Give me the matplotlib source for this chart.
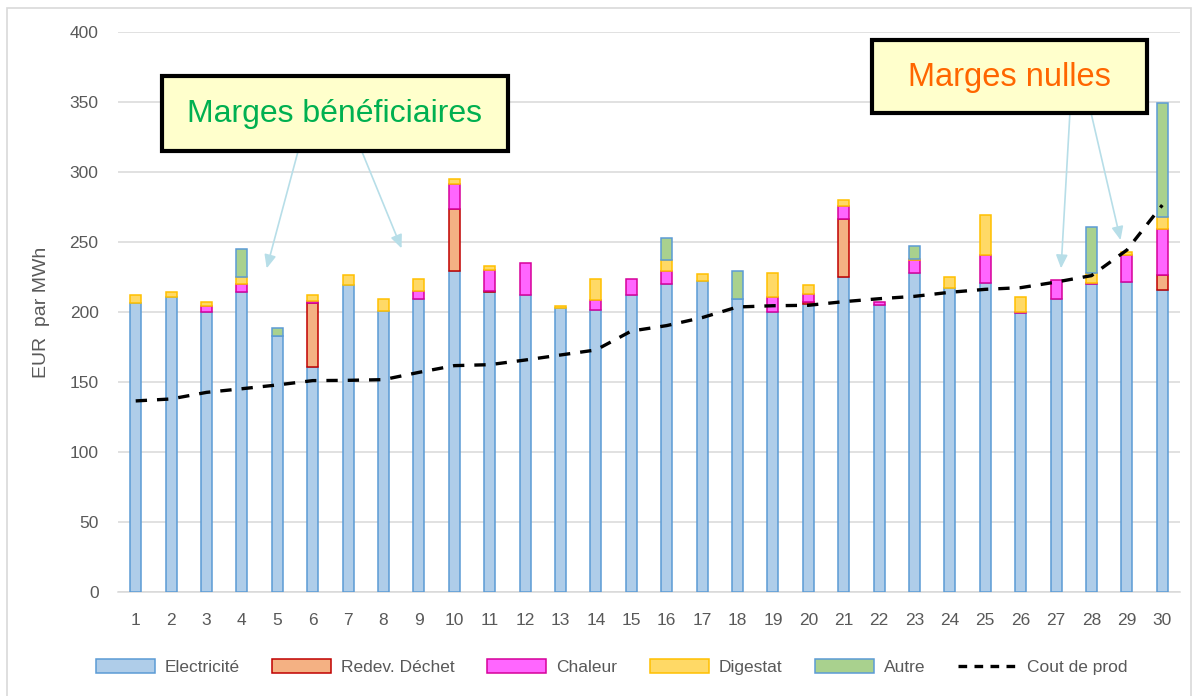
import numpy as np
import matplotlib
matplotlib.use("Agg")
import matplotlib.pyplot as plt
from matplotlib.patches import Rectangle, Patch
from matplotlib.lines import Line2D

# values (EUR par MWh)
sites = list(range(1, 31))
electricite = [206.4, 211.2, 200.4, 214.7, 182.9, 160.7, 219.7, 201.1, 209.7, 229.5,
               214.3, 212.6, 203.3, 201.9, 212.1, 220.0, 222.1, 209.3, 200.0, 205.7,
               225.2, 205.0, 228.4, 217.1, 220.7, 199.3, 209.3, 220.0, 221.4, 215.7]
redev_dechet = [0, 0, 0, 0, 0, 45.7, 0, 0, 0, 44.5,
                0.8, 0, 0, 0, 0, 0, 0, 0, 0, 1.9,
                41.7, 0, 0, 0, 0, 0, 0, 0, 0, 10.7]
chaleur = [0, 0, 4.3, 5.7, 0, 1.9, 0, 0, 5.5, 17.9,
           15.1, 22.4, 0, 6.9, 11.7, 9.7, 0, 0, 11.2, 5.7,
           9.2, 2.6, 8.6, 0, 20.4, 0.7, 13.6, 1.1, 19.7, 33.1]
digestat = [5.7, 3.1, 2.4, 4.8, 0, 3.8, 6.7, 8.2, 8.6, 3.3,
            3.2, 0, 1.2, 15.0, 0, 7.4, 5.0, 0, 16.7, 6.0,
            3.9, 0, 1.4, 8.3, 28.2, 10.7, 0, 6.8, 2.0, 8.8]
autre = [0, 0, 0, 19.8, 5.7, 0, 0, 0, 0, 0,
         0, 0, 0, 0, 0, 15.8, 0, 20.0, 0, 0,
         0, 0, 8.8, 0, 0, 0, 0, 32.8, 0, 81.0]
cout_prod = [136.7, 138.1, 142.8, 145.4, 148.1, 151.2, 151.4, 151.9, 157.1, 161.9,
             162.6, 165.9, 169.5, 173.1, 186.6, 190.5, 196.2, 203.8, 204.7, 205.0,
             207.6, 209.7, 211.4, 214.3, 216.4, 217.6, 221.6, 226.2, 244.5, 276.6]

series = [
    ("Electricité", electricite, "#afcde9", "#5b9bd5"),
    ("Redev. Déchet", redev_dechet, "#f4b183", "#c00000"),
    ("Chaleur", chaleur, "#ff66ff", "#d6009a"),
    ("Digestat", digestat, "#ffd966", "#ffc000"),
    ("Autre", autre, "#a9d18e", "#5b9bd5"),
]

plt.rcParams['font.family'] = ['Liberation Sans', 'DejaVu Sans']
grey = "#595959"

fig = plt.figure(figsize=(11.98, 6.96), dpi=100)
ax = fig.add_axes([118 / 1198, 1 - 592.3 / 696, 1062 / 1198, 560 / 696])

x = np.array(sites)
bottom = np.zeros(len(x))
handles = []
for name, vals, fc, ec in series:
    v = np.array(vals, dtype=float)
    m = v > 0
    ax.bar(x[m], v[m], bottom=bottom[m], width=0.31, color=fc, edgecolor=ec,
           linewidth=1.1, zorder=3)
    bottom += v
    handles.append(Patch(facecolor=fc, edgecolor=ec, linewidth=1.1, label=name))

ax.plot(x, cout_prod, color="black", lw=2.4, dashes=(3.4, 3.0), zorder=5)
handles.append(Line2D([], [], color="black", lw=2.4, dashes=(2.6, 2.2), label="Cout de prod"))

ax.set_xlim(0.5, 30.5)
ax.set_ylim(0, 400)
ax.set_yticks(range(0, 401, 50))
ax.set_xticks(x)
ax.grid(axis="y", color="#d9d9d9", lw=1.1, zorder=0)
ax.set_axisbelow(True)
for s in ["top", "right", "left"]:
    ax.spines[s].set_visible(False)
ax.spines["bottom"].set_color("#d9d9d9")
ax.spines["bottom"].set_linewidth(1.1)
ax.tick_params(axis="both", length=0, labelsize=12.5, labelcolor=grey)
ax.tick_params(axis="y", pad=14)
ax.tick_params(axis="x", pad=15)
ax.set_ylabel("EUR  par MWh", fontsize=14, color=grey)
ax.yaxis.set_label_coords(-0.064, 0.5)

# callout boxes
ax.add_patch(Rectangle((1.73, 315.4), 11.52 - 1.73, 369 - 315.4, facecolor="#ffffcc",
                       edgecolor="black", lw=3, clip_on=False, zorder=6))
ax.text(6.62, 341.6, "Marges bénéficiaires", fontsize=23, color="#00b050",
        ha="center", va="center", zorder=7)
ax.add_patch(Rectangle((21.79, 342.1), 29.58 - 21.79, 394.5 - 342.1, facecolor="#ffffcc",
                       edgecolor="black", lw=3, clip_on=False, zorder=6))
ax.text(25.67, 367.4, "Marges nulles", fontsize=23.5, color="#ff6600",
        ha="center", va="center", zorder=7)

arrow = dict(arrowstyle="-|>,head_length=0.8,head_width=0.35", color="#b7dee8",
             lw=1.2, shrinkA=0, shrinkB=0)
for start, end in [((5.59, 315.4), (4.70, 231.4)), ((7.38, 315.4), (8.51, 245.7)),
                   ((27.39, 342.1), (27.14, 231.4)), ((27.99, 342.1), (28.82, 251.6))]:
    ax.annotate("", xy=end, xytext=start, arrowprops=arrow, zorder=4)

fig.legend(handles=handles, loc="center", bbox_to_anchor=(0.5104, 1 - 667 / 696),
           ncol=6, frameon=False, fontsize=12.5, labelcolor=grey,
           handlelength=3.4, handleheight=0.9, handletextpad=0.55, columnspacing=1.9)

# outer chart border
fig.add_artist(Rectangle((6.5 / 1198, -0.01), (1191 - 6.5) / 1198, 1.01 - 8 / 696,
                         transform=fig.transFigure, fill=False, edgecolor="#d9d9d9", lw=1.2))

fig.savefig("out.png", dpi=100)
